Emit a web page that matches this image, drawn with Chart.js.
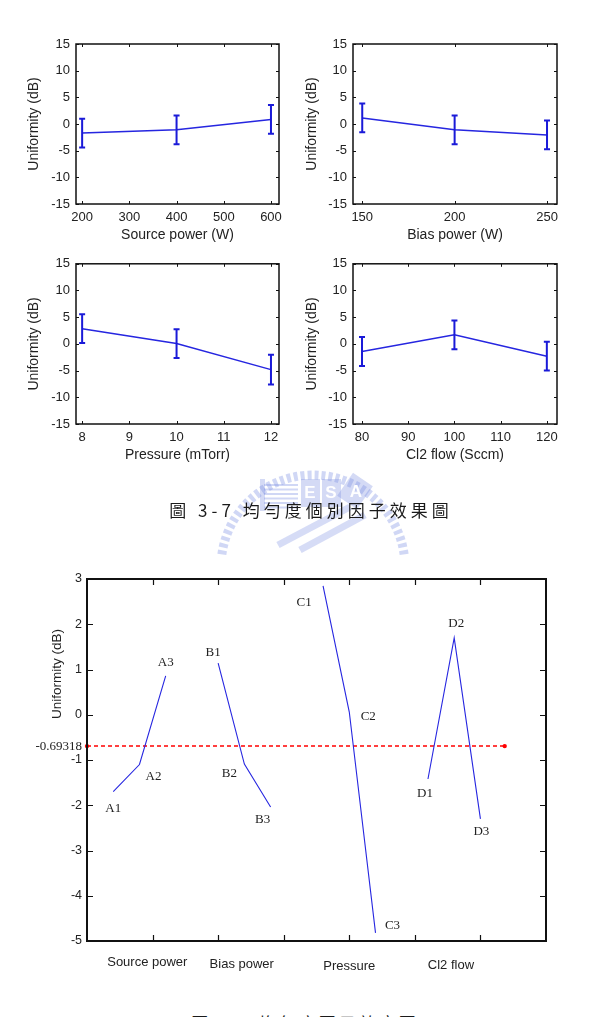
<!DOCTYPE html>
<html>
<head>
<meta charset="utf-8">
<script src="https://cdn.jsdelivr.net/npm/chart.js@4.4.1/dist/chart.umd.min.js"></script>
<style>
  html, body { margin: 0; padding: 0; background: #fff; overflow: hidden; }
  body { width: 609px; height: 1017px; position: relative; }
  canvas { position: absolute; }
  .cap { position: absolute; font-family: 'Noto Sans CJK TC', sans-serif; font-size: 17px; color: #1a1a1a;
         letter-spacing: 4px; white-space: nowrap; transform: translateX(-50%); line-height: 20px; }
</style>
</head>
<body>
<canvas id="logo" width="220" height="100" style="left:200px;top:455px"></canvas>
<canvas id="c1" width="300" height="250" style="left:0;top:0"></canvas>
<canvas id="c2" width="309" height="250" style="left:300px;top:0"></canvas>
<canvas id="c3" width="300" height="220" style="left:0;top:250px"></canvas>
<canvas id="c4" width="309" height="220" style="left:300px;top:250px"></canvas>
<div class="cap" style="left:311px;top:500px">圖 3-7 均勻度個別因子效果圖</div>
<canvas id="big" width="609" height="440" style="left:0;top:560px"></canvas>
<div class="cap" style="left:305px;top:1013px;letter-spacing:3px">圖 3-8 均勻度因子效應圖</div>

<script>
// ---- data ----
const yTicksSmall = [-15, -10, -5, 0, 5, 10, 15];

const sourceLevels = [200, 400, 600];
const biasLevels = [150, 200, 250];
const pressureLevels = [8, 10, 12];
const cl2Levels = [80, 100, 120];

const sourceTicks = [200, 300, 400, 500, 600];
const biasTicks = [150, 200, 250];
const pressureTicks = [8, 9, 10, 11, 12];
const cl2Ticks = [80, 90, 100, 110, 120];

// mean uniformity (dB) at each level
const sourceEffect = [-1.7, -1.1, 0.86];
const biasEffect = [1.14, -1.09, -2.04];
const pressureEffect = [2.85, 0.06, -4.82];
const cl2Effect = [-1.42, 1.7, -2.3];

// half length of the error bars
const sourceErr = [2.7, 2.7, 2.7];
const biasErr = [2.7, 2.7, 2.7];
const pressureErr = [2.7, 2.7, 2.8];
const cl2Err = [2.7, 2.7, 2.7];

// effect chart
const factorNames = ['Source power', 'Bias power', 'Pressure', 'Cl2 flow'];
const levelNames = [['A1', 'A2', 'A3'], ['B1', 'B2', 'B3'], ['C1', 'C2', 'C3'], ['D1', 'D2', 'D3']];
const levelX = [[0.4, 0.8, 1.2], [2.0, 2.4, 2.8], [3.6, 4.0, 4.4], [5.2, 5.6, 6.0]];
const grandMean = -0.69318;
const meanLineEnd = 6.37;
const bigYTicks = [-5, -4, -3, -2, -1, grandMean, 0, 1, 2, 3];
const bigXTicks = [1, 2, 3, 4, 5, 6];

// ---- layout bits (pixels / label spots) ----
const labelOffsets = [[[0, 17], [14, 12], [0, -13]], [[-5, -11], [-15, 10], [-8, 13]],
                      [[-19, 17], [19, 5], [17, -7]], [[-3, 15], [2, -14], [1, 13]]];
const namePos = [0.92, 2.36, 4.0, 5.55];
const nameDrop = [21, 23, 25, 24];

const SANS = 'Liberation Sans';
const SERIF = 'Liberation Serif';
const BLUE = '#2626e0';

// small charts: error bars, frame, inward ticks
function makeSmallDecor(levels, effect, err) {
  return {
    id: 'smallDecor',
    afterDatasetsDraw(chart) {
      const { ctx, chartArea: a, scales: { x, y } } = chart;
      ctx.save();
      ctx.strokeStyle = '#1a1ad8';
      ctx.lineWidth = 2;
      levels.forEach((lv, i) => {
        const px = x.getPixelForValue(lv);
        const top = y.getPixelForValue(effect[i] + err[i]);
        const bot = y.getPixelForValue(effect[i] - err[i]);
        ctx.beginPath();
        ctx.moveTo(px, top); ctx.lineTo(px, bot);
        ctx.moveTo(px - 3, top); ctx.lineTo(px + 3, top);
        ctx.moveTo(px - 3, bot); ctx.lineTo(px + 3, bot);
        ctx.stroke();
      });
      ctx.strokeStyle = '#111';
      ctx.lineWidth = 1.5;
      ctx.strokeRect(a.left, a.top, a.width, a.height);
      ctx.lineWidth = 1;
      ctx.beginPath();
      x.ticks.forEach(t => {
        const p = Math.round(x.getPixelForValue(t.value)) + 0.5;
        ctx.moveTo(p, a.bottom); ctx.lineTo(p, a.bottom - 3);
        ctx.moveTo(p, a.top); ctx.lineTo(p, a.top + 3);
      });
      y.ticks.forEach(t => {
        const p = Math.round(y.getPixelForValue(t.value)) + 0.5;
        ctx.moveTo(a.left, p); ctx.lineTo(a.left + 3, p);
        ctx.moveTo(a.right, p); ctx.lineTo(a.right - 3, p);
      });
      ctx.stroke();
      ctx.restore();
    }
  };
}

function smallChart(id, levels, effect, err, xMin, xMax, xTicks, xTitle, yW, yTitlePad, pad) {
  return new Chart(document.getElementById(id), {
    type: 'scatter',
    data: {
      datasets: [{
        data: levels.map((v, i) => ({ x: v, y: effect[i] })),
        showLine: true,
        borderColor: BLUE,
        borderWidth: 1.5,
        pointRadius: 0
      }]
    },
    options: {
      responsive: false,
      animation: false,
      events: [],
      layout: { padding: pad },
      plugins: { legend: { display: false }, tooltip: { enabled: false } },
      scales: {
        x: {
          type: 'linear', min: xMin, max: xMax,
          afterBuildTicks: s => { s.ticks = xTicks.map(v => ({ value: v })); },
          afterFit: s => { s.height = 46; },
          grid: { display: false, drawTicks: false },
          border: { display: false },
          ticks: { color: '#222', font: { family: SANS, size: 13 }, padding: 6, maxRotation: 0, autoSkip: false,
                   callback: v => String(v) },
          title: { display: true, text: xTitle, color: '#222', font: { family: SANS, size: 14 },
                   padding: { top: 0, bottom: 6 } }
        },
        y: {
          min: -15, max: 15,
          afterBuildTicks: s => { s.ticks = yTicksSmall.map(v => ({ value: v })); },
          afterFit: s => { s.width = yW; },
          grid: { display: false, drawTicks: false },
          border: { display: false },
          ticks: { color: '#222', font: { family: SANS, size: 13 }, padding: 6, callback: v => String(v) },
          title: { display: true, text: 'Uniformity (dB)', color: '#222', font: { family: SANS, size: 14 },
                   padding: { top: yTitlePad, bottom: 0 } }
        }
      }
    },
    plugins: [makeSmallDecor(levels, effect, err)]
  });
}

smallChart('c1', sourceLevels, sourceEffect, sourceErr, 187, 617, sourceTicks, 'Source power (W)', 76, 26,
  { left: 0, top: 44, right: 21, bottom: 0 });
smallChart('c2', biasLevels, biasEffect, biasErr, 145, 255.4, biasTicks, 'Bias power (W)', 53, 4,
  { left: 0, top: 44, right: 52, bottom: 0 });
smallChart('c3', pressureLevels, pressureEffect, pressureErr, 7.87, 12.17, pressureTicks, 'Pressure (mTorr)', 76, 26,
  { left: 0, top: 13, right: 21, bottom: 0 });
smallChart('c4', cl2Levels, cl2Effect, cl2Err, 78.05, 122.2, cl2Ticks, 'Cl2 flow (Sccm)', 53, 4,
  { left: 0, top: 13, right: 52, bottom: 0 });

// effect chart decorations
const bigDecor = {
  id: 'bigDecor',
  afterDatasetsDraw(chart) {
    const { ctx, chartArea: a, scales: { x, y } } = chart;
    ctx.save();
    ctx.strokeStyle = '#111';
    ctx.lineWidth = 2;
    ctx.strokeRect(a.left, a.top, a.width, a.height);
    ctx.lineWidth = 1.2;
    ctx.beginPath();
    bigXTicks.forEach(v => {
      const p = Math.round(x.getPixelForValue(v)) + 0.5;
      ctx.moveTo(p, a.bottom); ctx.lineTo(p, a.bottom - 6);
      ctx.moveTo(p, a.top); ctx.lineTo(p, a.top + 6);
    });
    bigYTicks.forEach(v => {
      if (v === grandMean) return;
      const p = Math.round(y.getPixelForValue(v)) + 0.5;
      ctx.moveTo(a.left, p); ctx.lineTo(a.left + 6, p);
      ctx.moveTo(a.right, p); ctx.lineTo(a.right - 6, p);
    });
    ctx.stroke();

    // level labels
    ctx.fillStyle = '#222';
    ctx.font = '13px "' + SERIF + '"';
    ctx.textAlign = 'center';
    ctx.textBaseline = 'middle';
    levelNames.forEach((names, f) => {
      names.forEach((n, i) => {
        const px = x.getPixelForValue(levelX[f][i]) + labelOffsets[f][i][0];
        const py = y.getPixelForValue(effects[f][i]) + labelOffsets[f][i][1];
        ctx.fillText(n, px, py);
      });
    });

    // factor names under the axis
    ctx.font = '13px "' + SANS + '"';
    factorNames.forEach((n, i) => {
      ctx.fillText(n, x.getPixelForValue(namePos[i]), a.bottom + nameDrop[i]);
    });

    // y title
    ctx.translate(57, 114);
    ctx.rotate(-Math.PI / 2);
    ctx.font = '13.5px "' + SANS + '"';
    ctx.fillText('Uniformity (dB)', 0, 0);
    ctx.restore();
  }
};

const effects = [sourceEffect, biasEffect, pressureEffect, cl2Effect];
const bigSets = effects.map((ef, f) => ({
  data: ef.map((v, i) => ({ x: levelX[f][i], y: v })),
  showLine: true,
  borderColor: BLUE,
  borderWidth: 1.1,
  pointRadius: 0
}));
bigSets.push({
  data: [{ x: 0, y: grandMean }, { x: meanLineEnd, y: grandMean }],
  showLine: true,
  borderColor: '#f00',
  borderWidth: 1.5,
  borderDash: [4, 3],
  pointRadius: 2.2,
  pointBackgroundColor: '#f00',
  pointBorderWidth: 0,
  clip: 6
});

new Chart(document.getElementById('big'), {
  type: 'scatter',
  data: { datasets: bigSets },
  options: {
    responsive: false,
    animation: false,
    events: [],
    layout: { padding: { left: 0, top: 19, right: 63, bottom: 0 } },
    plugins: { legend: { display: false }, tooltip: { enabled: false } },
    scales: {
      x: {
        type: 'linear', min: 0, max: 7,
        afterBuildTicks: s => { s.ticks = bigXTicks.map(v => ({ value: v })); },
        afterFit: s => { s.height = 59; },
        grid: { display: false, drawTicks: false },
        border: { display: false },
        ticks: { display: false }
      },
      y: {
        min: -5, max: 3,
        afterBuildTicks: s => { s.ticks = bigYTicks.map(v => ({ value: v })); },
        afterFit: s => { s.width = 87; },
        grid: { display: false, drawTicks: false },
        border: { display: false },
        ticks: {
          color: '#222',
          padding: 5,
          callback: v => String(v),
          font: c => (c.tick && c.tick.value === grandMean)
            ? { family: SERIF, size: 13 }
            : { family: SANS, size: 12.5 }
        }
      }
    }
  },
  plugins: [bigDecor]
});

// faint school logo watermark behind the first caption
(function () {
  const ctx = document.getElementById('logo').getContext('2d');
  ctx.strokeStyle = 'rgba(120,140,225,0.35)';
  ctx.fillStyle = 'rgba(120,140,225,0.32)';
  ctx.lineWidth = 9;
  ctx.setLineDash([4, 3]);
  ctx.beginPath();
  ctx.arc(113, 112, 92, Math.PI * 1.02, Math.PI * 1.98);
  ctx.stroke();
  ctx.setLineDash([]);
  // book with lines
  ctx.lineWidth = 2;
  for (let i = 0; i < 6; i++) {
    ctx.beginPath();
    ctx.moveTo(64, 30 + i * 4.5); ctx.lineTo(98, 30 + i * 4.5);
    ctx.stroke();
  }
  ctx.fillRect(60, 24, 5, 32);
  ctx.fillRect(101, 24, 19, 28);
  ctx.fillRect(122, 24, 19, 28);
  ctx.save();
  ctx.translate(155, 36);
  ctx.rotate(0.6);
  ctx.fillRect(-12, -14, 24, 28);
  ctx.restore();
  ctx.fillStyle = '#fff';
  ctx.font = 'bold 17px "Liberation Sans"';
  ctx.textAlign = 'center';
  ctx.textBaseline = 'middle';
  ctx.fillText('E', 110, 38);
  ctx.fillText('S', 131, 38);
  ctx.fillText('A', 156, 37);
  ctx.strokeStyle = 'rgba(120,140,225,0.30)';
  ctx.lineWidth = 7;
  ctx.beginPath();
  ctx.moveTo(78, 90); ctx.lineTo(150, 52);
  ctx.moveTo(100, 95); ctx.lineTo(165, 60);
  ctx.stroke();
})();
</script>
</body>
</html>
